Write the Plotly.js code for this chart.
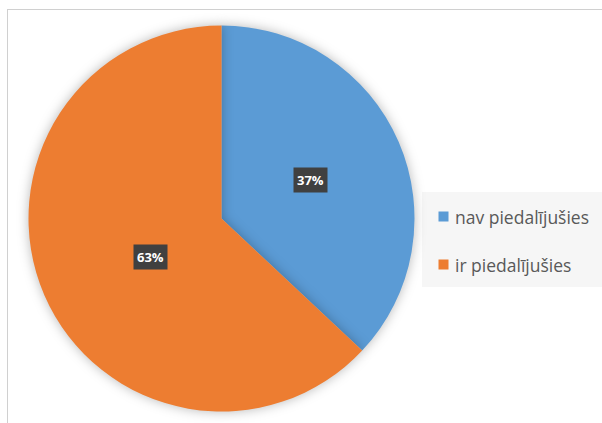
<!DOCTYPE html>
<html>
<head>
<meta charset="utf-8">
<script src="https://cdn.plot.ly/plotly-3.0.1.min.js"></script>
<style>
  html, body { margin: 0; padding: 0; background: #fff; }
  #wrap { position: relative; width: 602px; height: 423px; }
  #chart { width: 602px; height: 423px; }
  #frame { position: absolute; left: 7px; top: 9px; right: 0; bottom: 0;
           border-left: 1px solid #d0d0d0; border-top: 1px solid #d0d0d0; pointer-events: none; }
  .pielayer .slice path { filter: drop-shadow(0px 0px 6px rgba(0,0,0,0.28)); }
</style>
</head>
<body>
<div id="wrap">
  <div id="chart"></div>
  <div id="frame"></div>
</div>
<script>
// ---- data ----
const categories = ['nav piedalījušies', 'ir piedalījušies'];
const values = [37, 63];
const colors = ['#5B9BD5', '#ED7D31'];

// ---- layout constants (pixels) ----
const W = 602, H = 423;
const cx = 221.5, cy = 218.5, R = 193;

const total = values.reduce((a, b) => a + b, 0);

// percentage label annotations placed along each slice's mid-angle
const annotations = [];
let acc = 0;
values.forEach((v, i) => {
  const mid = (acc + v / 2) / total * 2 * Math.PI; // clockwise from top
  acc += v;
  const px = cx + 0.5 * R * Math.sin(mid);
  const py = cy - 0.5 * R * Math.cos(mid);
  annotations.push({
    xref: 'paper', yref: 'paper', x: px / W, y: 1 - py / H,
    text: '<b>' + Math.round(v / total * 100) + '%</b>',
    showarrow: false, bgcolor: '#404040', borderpad: 3,
    font: { family: '"Open Sans", "Noto Sans", sans-serif', size: 13, color: '#ffffff' }
  });
});

// manual legend
const legX = 422, legY0 = 192, legY1 = 287;
const rowY = [216.5, 264.5];
const shapes = [{
  type: 'rect', xref: 'paper', yref: 'paper', layer: 'below',
  x0: legX / W, x1: 1, y0: 1 - legY1 / H, y1: 1 - legY0 / H,
  fillcolor: '#f6f6f6', line: { width: 0 }
}];
categories.forEach((c, i) => {
  shapes.push({
    type: 'rect', xref: 'paper', yref: 'paper',
    x0: 438.5 / W, x1: 448.5 / W, y0: 1 - (rowY[i] + 5) / H, y1: 1 - (rowY[i] - 5) / H,
    fillcolor: colors[i], line: { width: 0 }
  });
  annotations.push({
    xref: 'paper', yref: 'paper', x: 453 / W, y: 1 - rowY[i] / H,
    xanchor: 'left', yanchor: 'middle', showarrow: false,
    text: c,
    font: { family: '"Open Sans", "Noto Sans", sans-serif', size: 17.5, color: '#595959' }
  });
});

const trace = {
  type: 'pie',
  labels: categories,
  values: values,
  marker: { colors: colors, line: { width: 0 } },
  sort: false,
  direction: 'clockwise',
  rotation: 0,
  textinfo: 'none',
  hoverinfo: 'label+percent',
  showlegend: false,
  domain: { x: [(cx - R) / W, (cx + R) / W], y: [1 - (cy + R) / H, 1 - (cy - R) / H] }
};

const layout = {
  width: W, height: H,
  margin: { l: 0, r: 0, t: 0, b: 0 },
  paper_bgcolor: '#ffffff',
  showlegend: false,
  annotations: annotations,
  shapes: shapes
};

Plotly.newPlot('chart', [trace], layout, { displayModeBar: false, staticPlot: true });
</script>
</body>
</html>
